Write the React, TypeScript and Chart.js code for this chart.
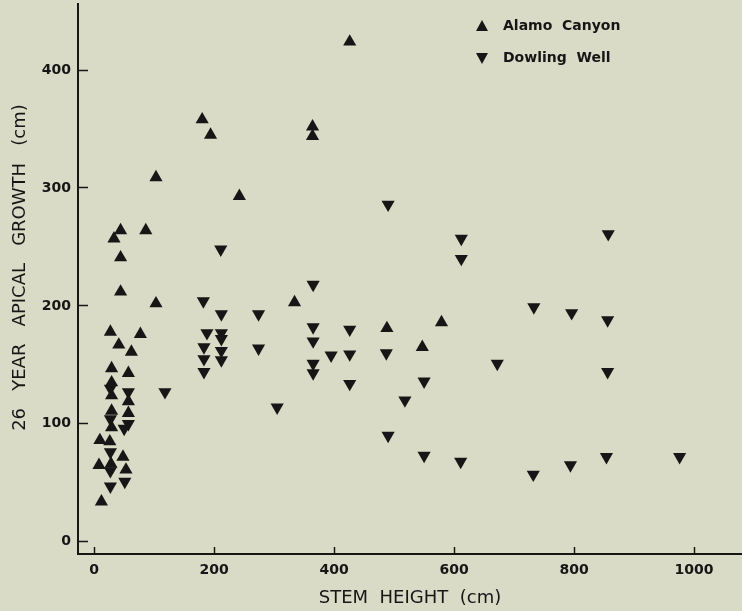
import React, { useEffect, useRef } from "react";
import { Chart, registerables } from "chart.js";

Chart.register(...registerables);

// Alamo Canyon (upward triangles)
const alamoX = [9.5, 8, 12, 27, 29, 29, 29, 29, 29, 26, 28, 44, 33, 44, 44, 41, 62, 77, 57, 57, 57, 48, 53, 86, 103, 103, 180, 194, 242, 334, 364, 364, 426, 488, 547, 579];
const alamoY = [86, 65, 34, 178, 147, 135, 124, 111, 97, 85, 66, 264, 257, 241, 212, 167, 161, 176, 143, 119, 109, 72, 61, 264, 309, 202, 358, 345, 293, 203, 352, 344, 424, 181, 165, 186];

// Dowling Well (downward triangles)
const dowlingX = [118, 182, 188, 183, 183, 183, 211, 212, 212, 212, 212, 212, 274, 274, 305, 365, 365, 365, 365, 365, 395, 426, 426, 426, 490, 487, 490, 518, 550, 550, 612, 612, 611, 672, 733, 732, 796, 794, 857, 856, 856, 854, 976, 57, 57, 50, 51, 27, 27, 27, 27, 27];
const dowlingY = [127, 204, 177, 165, 155, 144, 248, 193, 177, 172, 162, 154, 193, 164, 114, 218, 182, 170, 151, 143, 158, 180, 159, 134, 286, 160, 90, 120, 136, 73, 257, 240, 68, 151, 199, 57, 194, 65, 261, 188, 144, 72, 72, 127, 100, 96, 51, 130, 104, 76, 60, 47];

const seriesLabels = ["Alamo  Canyon", "Dowling  Well"];
const xTicks = [0, 200, 400, 600, 800, 1000];
const yTicks = [0, 100, 200, 300, 400];
const xTitle = "STEM  HEIGHT  (cm)";
const yTitle = "    26   YEAR   APICAL   GROWTH   (cm)";

const INK = "#161616";
const BG = "#d9dbc6";

const toPoints = (xs: number[], ys: number[]) => xs.map((x, i) => ({ x, y: ys[i] }));

const bgPlugin = {
  id: "bgFill",
  beforeDraw(chart: any) {
    const ctx = chart.ctx;
    ctx.save();
    ctx.fillStyle = BG;
    ctx.fillRect(0, 0, chart.width, chart.height);
    ctx.restore();
  },
};

const legendPlugin = {
  id: "cornerLegend",
  afterDatasetsDraw(chart: any) {
    const ctx = chart.ctx;
    ctx.save();
    chart.data.datasets.forEach((ds: any, i: number) => {
      const cy = 26 + i * 32;
      const cx = 482;
      ctx.fillStyle = INK;
      ctx.beginPath();
      if (i === 0) {
        ctx.moveTo(cx, cy - 6);
        ctx.lineTo(cx + 6, cy + 5);
        ctx.lineTo(cx - 6, cy + 5);
      } else {
        ctx.moveTo(cx, cy + 6);
        ctx.lineTo(cx + 6, cy - 5);
        ctx.lineTo(cx - 6, cy - 5);
      }
      ctx.closePath();
      ctx.fill();
      ctx.font = 'bold 14px "DejaVu Sans"';
      ctx.textBaseline = "middle";
      ctx.textAlign = "left";
      ctx.fillText(ds.label, 503, cy);
    });
    ctx.restore();
  },
};

export default function App() {
  const canvasRef = useRef<HTMLCanvasElement | null>(null);

  useEffect(() => {
    const canvas = canvasRef.current;
    if (!canvas) return;
    const tickFont = { family: "DejaVu Sans", weight: "bold" as const, size: 14 };
    const titleFont = { family: "DejaVu Sans", size: 18 };
    const chart = new Chart(canvas, {
      type: "scatter",
      data: {
        datasets: [
          {
            label: seriesLabels[0],
            data: toPoints(alamoX, alamoY),
            pointStyle: "triangle",
            pointRadius: 7.6,
            pointBorderWidth: 0,
            backgroundColor: INK,
            borderColor: INK,
          },
          {
            label: seriesLabels[1],
            data: toPoints(dowlingX, dowlingY),
            pointStyle: "triangle",
            rotation: 180,
            pointRadius: 7.6,
            pointBorderWidth: 0,
            backgroundColor: INK,
            borderColor: INK,
          },
        ],
      },
      options: {
        responsive: false,
        animation: false,
        devicePixelRatio: 1,
        layout: { autoPadding: false, padding: { top: 4, left: 0, right: 0, bottom: 0 } },
        plugins: {
          legend: { display: false },
          tooltip: { enabled: false },
        },
        scales: {
          x: {
            type: "linear",
            position: "bottom",
            min: -27,
            max: 1080,
            afterFit: (s: any) => {
              s.height = 57;
              s.paddingLeft = 0;
              s.paddingRight = 0;
            },
            afterBuildTicks: (s: any) => {
              s.ticks = xTicks.map((value) => ({ value }));
            },
            grid: {
              drawOnChartArea: false,
              drawTicks: true,
              tickLength: -7,
              tickWidth: 1.5,
              tickColor: INK,
            },
            border: { display: true, color: INK, width: 2 },
            ticks: {
              padding: 15,
              color: INK,
              font: tickFont,
              maxRotation: 0,
              autoSkip: false,
              callback: (v: any) => String(v),
            },
            title: {
              display: true,
              text: xTitle,
              color: INK,
              font: titleFont,
              padding: { top: 0, bottom: 2 },
            },
          },
          y: {
            type: "linear",
            min: -10.4,
            max: 456,
            afterFit: (s: any) => {
              s.width = 78;
              s.paddingTop = 0;
              s.paddingBottom = 0;
            },
            afterBuildTicks: (s: any) => {
              s.ticks = yTicks.map((value) => ({ value }));
            },
            grid: {
              drawOnChartArea: false,
              drawTicks: true,
              tickLength: -10,
              tickWidth: 1.5,
              tickColor: INK,
            },
            border: { display: true, color: INK, width: 2 },
            ticks: {
              padding: 17,
              color: INK,
              font: tickFont,
              autoSkip: false,
              callback: (v: any) => String(v),
            },
            title: {
              display: true,
              text: yTitle,
              color: INK,
              font: titleFont,
              padding: { top: 10, bottom: 0 },
            },
          },
        },
      },
      plugins: [bgPlugin, legendPlugin],
    });
    return () => chart.destroy();
  }, []);

  return (
    <div style={{ position: "fixed", left: 0, top: 0, width: 742, height: 611, background: BG }}>
      <canvas ref={canvasRef} width={742} height={611} style={{ display: "block" }} />
    </div>
  );
}
